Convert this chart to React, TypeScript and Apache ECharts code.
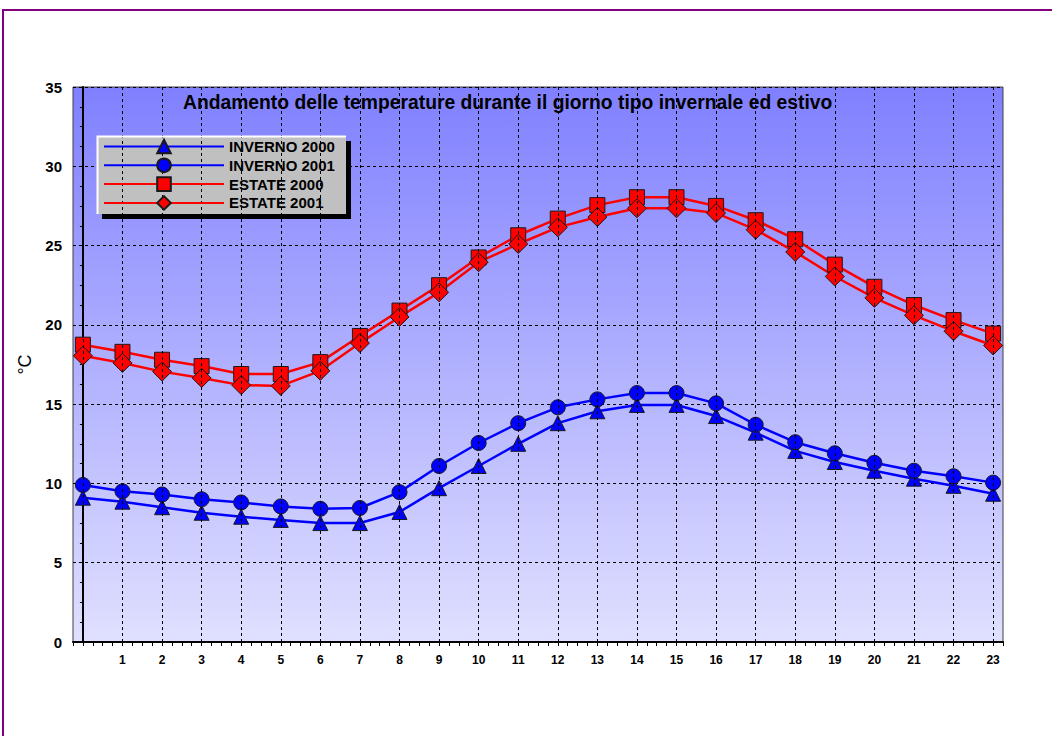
import React, { useEffect, useRef } from "react";
import * as echarts from "echarts";

const hours = [0, 1, 2, 3, 4, 5, 6, 7, 8, 9, 10, 11, 12, 13, 14, 15, 16, 17, 18, 19, 20, 21, 22, 23];
const seriesNames = ["INVERNO 2000", "INVERNO 2001", "ESTATE 2000", "ESTATE 2001"];
const inverno2000 = [9.1, 8.85, 8.5, 8.15, 7.9, 7.7, 7.5, 7.5, 8.2, 9.7, 11.1, 12.5, 13.8, 14.55, 14.95, 14.95, 14.25, 13.2, 12.05, 11.35, 10.8, 10.3, 9.85, 9.35];
const inverno2001 = [9.9, 9.5, 9.3, 9.0, 8.8, 8.55, 8.4, 8.45, 9.45, 11.1, 12.55, 13.8, 14.8, 15.3, 15.7, 15.7, 15.05, 13.7, 12.6, 11.9, 11.3, 10.8, 10.45, 10.05];
const estate2000 = [18.75, 18.3, 17.8, 17.4, 16.9, 16.9, 17.65, 19.3, 20.9, 22.5, 24.25, 25.65, 26.7, 27.55, 28.05, 28.05, 27.5, 26.6, 25.4, 23.8, 22.4, 21.25, 20.3, 19.45];
const estate2001 = [18.05, 17.6, 17.05, 16.65, 16.2, 16.15, 17.1, 18.85, 20.5, 22.05, 23.95, 25.1, 26.15, 26.8, 27.35, 27.35, 27.05, 26.0, 24.6, 23.05, 21.7, 20.6, 19.6, 18.7];
const yTicks = [0, 5, 10, 15, 20, 25, 30, 35];

const title = "Andamento delle temperature durante il giorno tipo invernale ed estivo";
const FONT = "'Liberation Sans', Arial, sans-serif";

export default function App() {
  const ref = useRef<HTMLDivElement>(null);
  useEffect(() => {
    if (!ref.current) return;
    const chart = echarts.init(ref.current, undefined, { renderer: "svg" });
    const pts = (arr: number[]) => hours.map((h, i) => [h, arr[i]]);
    const mk = (name: string, arr: number[], color: string, symbol: string, size: any) => ({
      name,
      type: "line",
      data: pts(arr),
      z: 3,
      symbol,
      symbolSize: size,
      showAllSymbol: true,
      lineStyle: { color, width: 2.5 },
      itemStyle: { color, borderColor: "#1a1a1a", borderWidth: 1 },
      emphasis: { disabled: true },
    });
    chart.setOption({
      animation: false,
      backgroundColor: "#ffffff",
      title: {
        text: title,
        left: 178,
        top: 88,
        textStyle: { fontFamily: FONT, fontWeight: "bold", fontSize: 19.3, color: "#000" },
      },
      graphic: [
        {
          type: "rect",
          z: 1,
          shape: { x: 3, y: 10, width: 1200, height: 900 },
          style: { fill: "none", stroke: "#800080", lineWidth: 2 },
          silent: true,
        },
        {
          type: "rect",
          z: 5,
          shape: { x: 102, y: 141, width: 249, height: 78 },
          style: { fill: "#000" },
          silent: true,
        },
        {
          type: "rect",
          z: 5,
          shape: { x: 97, y: 136, width: 249, height: 78 },
          style: { fill: "#c0c0c0" },
          silent: true,
        },
        {
          type: "polyline",
          z: 6,
          shape: { points: [[97.5, 214], [97.5, 136.5], [346, 136.5]] },
          style: { fill: "none", stroke: "#ffffff", lineWidth: 2 },
          silent: true,
        },
      ],
      legend: {
        orient: "vertical",
        left: 98,
        top: 133.5,
        z: 10,
        itemWidth: 120,
        itemHeight: 17,
        itemGap: 2.8,
        data: seriesNames,
        textStyle: { fontFamily: FONT, fontWeight: "bold", fontSize: 15, lineHeight: 16, color: "#000" },
        selectedMode: false,
      },
      grid: {
        left: 73,
        right: 49,
        top: 87,
        bottom: 94,
        show: true,
        borderColor: "#404040",
        borderWidth: 1,
        backgroundColor: new echarts.graphic.LinearGradient(0, 0, 0, 1, [
          { offset: 0, color: "#8080ff" },
          { offset: 1, color: "#e0e0ff" },
        ]),
      },
      xAxis: {
        type: "value",
        min: -0.25,
        max: 23.25,
        interval: 0.25,
        axisLine: { show: true, lineStyle: { color: "#000", width: 2 } },
        axisTick: { show: true, length: 4, lineStyle: { color: "#000" } },
        splitLine: { show: false },
        axisLabel: {
          margin: 12,
          fontFamily: FONT,
          fontWeight: "bold",
          fontSize: 12,
          color: "#000",
          formatter: (v: number) => (Number.isInteger(v) && v >= 1 ? String(v) : ""),
        },
      },
      yAxis: {
        type: "value",
        min: yTicks[0],
        max: yTicks[yTicks.length - 1],
        interval: 5,
        name: "°C",
        nameLocation: "middle",
        nameRotate: 90,
        nameGap: 36,
        nameTextStyle: { fontFamily: FONT, fontSize: 18, color: "#000" },
        axisLine: { show: true, lineStyle: { color: "#000", width: 2 } },
        axisTick: { show: true, length: 4, lineStyle: { color: "#000" } },
        minorTick: { show: true, splitNumber: 4, length: 3, lineStyle: { color: "#000" } },
        splitLine: { show: true, lineStyle: { color: "#000", type: [3, 3], width: 1 } },
        axisLabel: { margin: 11, fontFamily: FONT, fontWeight: "bold", fontSize: 15, color: "#000" },
      },
      series: [
        {
          type: "line",
          data: [],
          z: 1,
          silent: true,
          markLine: {
            silent: true,
            symbol: ["none", "none"],
            label: { show: false },
            emphasis: { disabled: true },
            lineStyle: { color: "#000", type: [3, 3], width: 1 },
            data: hours.map((h) => ({ xAxis: h })),
          },
        },
        mk(seriesNames[0], inverno2000, "#0000ff", "triangle", 15),
        mk(seriesNames[1], inverno2001, "#0000ff", "circle", 15),
        mk(seriesNames[2], estate2000, "#ff0000", "rect", 15),
        mk(seriesNames[3], estate2001, "#ff0000", "diamond", [19, 19]),
      ],
    });
    return () => chart.dispose();
  }, []);
  return (
    <div
      ref={ref}
      style={{ position: "absolute", left: 0, top: 0, width: 1052, height: 736, background: "#fff" }}
    />
  );
}
